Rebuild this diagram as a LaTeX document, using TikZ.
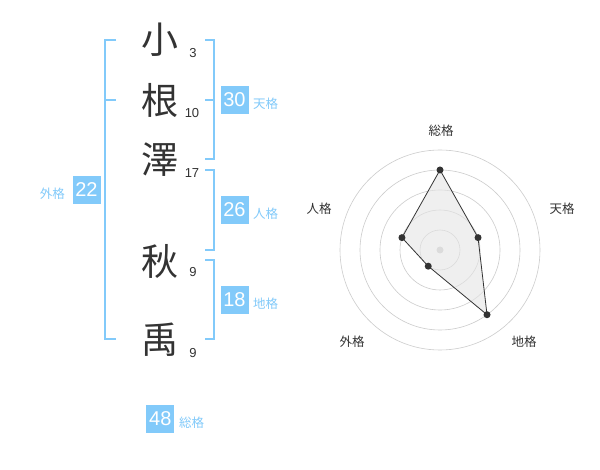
\documentclass[tikz,border=0pt]{standalone}
\usepackage{fontspec}
\setmainfont{Liberation Sans}
\newfontfamily\jp{Noto Sans CJK JP}
\definecolor{bl}{RGB}{130,202,250}
\definecolor{ink}{RGB}{51,51,51}
\definecolor{ring}{RGB}{204,204,204}
\tikzset{
  kanji/.style={inner sep=0pt, text=ink, font=\jp\fontsize{37}{37}\selectfont},
  stroke/.style={inner sep=0pt, text=ink, font=\fontsize{13}{13}\selectfont},
  brk/.style={draw=bl, line width=2pt},
  numbox/.style={fill=bl, text=white, minimum width=28pt, minimum height=28pt, inner sep=0pt, font=\fontsize{20}{20}\selectfont},
  kaku/.style={inner sep=0pt, text=bl, font=\jp\fontsize{12.5}{12.5}\selectfont},
  rlab/.style={inner sep=0pt, text=ink, font=\jp\fontsize{12.5}{12.5}\selectfont},
  ringc/.style={draw=ring, line width=0.6pt},
  dot/.style={circle, fill=ink, inner sep=0pt, minimum size=7pt},
}
\begin{document}
\begin{tikzpicture}[x=1pt,y=-1pt]
\useasboundingbox[fill=white] (0,0) rectangle (600,470);
% characters
\node[kanji] (c1) at (160,40) {小};
\node[kanji] (c2) at (160,100) {根};
\node[kanji] (c3) at (160,160) {澤};
\node[kanji] (c4) at (160,261) {秋};
\node[kanji] (c5) at (160,340) {禹};
\node[stroke] (s1) at (193,53) {3};
\node[stroke] (s2) at (192,113) {10};
\node[stroke] (s3) at (192,173) {17};
\node[stroke] (s4) at (193,272) {9};
\node[stroke] (s5) at (193,353) {9};
% brackets
\draw[brk] (116,40) -- (105,40) -- (105,339) -- (116,339);
\draw[brk] (105,100) -- (116,100);
\draw[brk] (205,40) -- (214,40) -- (214,159) -- (205,159);
\draw[brk] (205,100) -- (214,100);
\draw[brk] (205,170) -- (214,170) -- (214,250) -- (205,250);
\draw[brk] (205,260) -- (214,260) -- (214,339) -- (205,339);
% boxes
\node[numbox] (b30) at (234.5,100) {30};
\node[kaku, anchor=west] (l30) at (253,104) {天格};
\node[numbox] (b26) at (234.5,210) {26};
\node[kaku, anchor=west] (l26) at (253,214) {人格};
\node[numbox] (b18) at (234.5,300) {18};
\node[kaku, anchor=west] (l18) at (253,304) {地格};
\node[numbox] (b22) at (86.5,190) {22};
\node[kaku, anchor=east] (l22) at (65,194) {外格};
\node[numbox] (b48) at (160.3,419) {48};
\node[kaku, anchor=west] (l48) at (179,423) {総格};
% radar
\coordinate (O) at (440,250);
\foreach \r in {20,40,60,80,100} \draw[ringc] (O) circle[radius=\r];
\fill[ring] (O) circle[radius=3.5];
\coordinate (pS) at (440,170);
\coordinate (pT) at (478.04,237.64);
\coordinate (pC) at (487.02,314.72);
\coordinate (pG) at (428.24,266.18);
\coordinate (pJ) at (401.96,237.64);
\fill[black!10, opacity=0.6] (pS) -- (pT) -- (pC) -- (pG) -- (pJ) -- cycle;
\draw[ink, line width=0.8pt] (pS) -- (pT) -- (pC) -- (pG) -- (pJ) -- cycle;
\foreach \p in {pS,pT,pC,pG,pJ} \node[dot] at (\p) {};
\node[rlab] (rS) at (441,131) {総格};
\node[rlab] (rT) at (562,209) {天格};
\node[rlab] (rJ) at (319,209) {人格};
\node[rlab] (rG) at (352,342) {外格};
\node[rlab] (rC) at (524,342) {地格};
\end{tikzpicture}
\end{document}
